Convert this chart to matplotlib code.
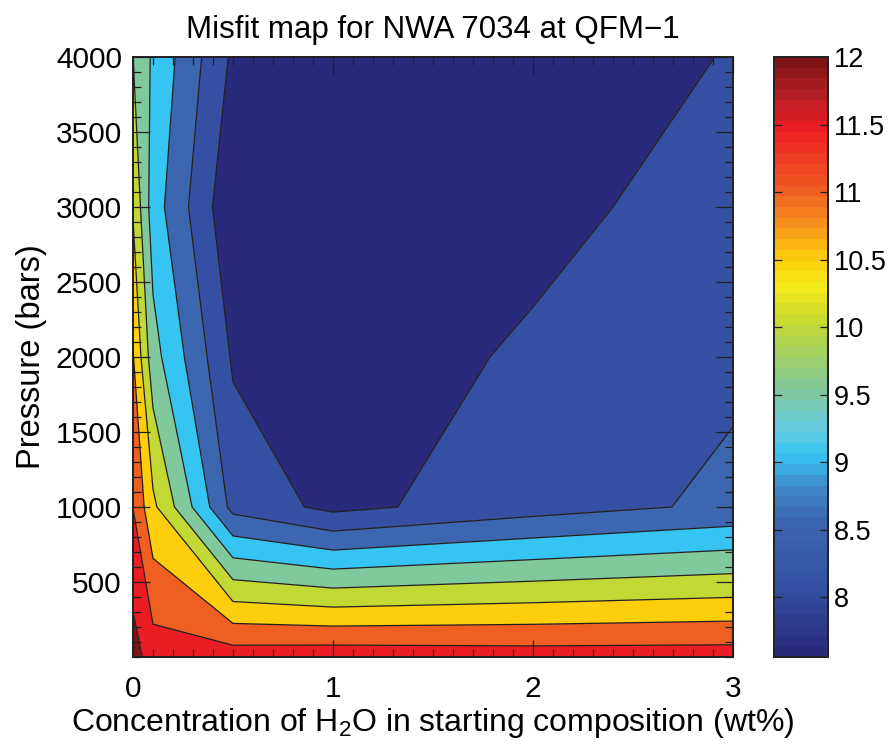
import numpy as np
import matplotlib
matplotlib.use("Agg")
import matplotlib.pyplot as plt
from matplotlib.colors import LinearSegmentedColormap, ListedColormap, Normalize
from matplotlib.cm import ScalarMappable
from matplotlib.ticker import MultipleLocator, FixedLocator

plt.rcParams['font.family'] = ['Liberation Sans', 'DejaVu Sans']
plt.rcParams['mathtext.fontset'] = 'custom'
plt.rcParams['mathtext.rm'] = 'Liberation Sans'
plt.rcParams['mathtext.it'] = 'Liberation Sans:italic'
plt.rcParams['mathtext.bf'] = 'Liberation Sans:bold'

# ---- data ----
water_wt = [0.0, 0.1, 0.5, 1.0, 2.0, 3.0]
pressure_bar = [0, 1000, 2000, 3000, 4000]
misfit_p0 = [11.75, 11.333, 11.35, 11.39, 11.34, 11.34]
misfit_p1000 = [11.105, 10.32, 8.30, 7.88, 8.25, 8.53]
misfit_p2000 = [10.70, 9.50, 7.94, 7.635, 8.10, 8.37]
misfit_p3000 = [10.18, 9.10, 7.62, 7.56, 7.80, 8.30]
misfit_p4000 = [9.78, 9.26, 7.92, 7.60, 7.70, 8.03]
vmin, vmax = 7.5556, 12.0
n_levels = 10
cbar_ticks = [8, 8.5, 9, 9.5, 10, 10.5, 11, 11.5, 12]
cbar_labels = ['8', '8.5', '9', '9.5', '10', '10.5', '11', '11.5', '12']
x_ticks = [0, 1, 2, 3]
y_ticks = [500, 1000, 1500, 2000, 2500, 3000, 3500, 4000]

Z = np.array([misfit_p0, misfit_p1000, misfit_p2000, misfit_p3000, misfit_p4000])
X, Y = np.meshgrid(water_wt, pressure_bar)
levels = np.linspace(vmin, vmax, n_levels + 1)

# ---- colormap (style) ----
anchors = [
    (0.0, '#2a2a7c'), (1/9, '#3551a3'), (2/9, '#3c66b0'), (2.5/9, '#3f88c8'),
    (3/9, '#36c5f2'), (3.45/9, '#68cbdb'), (4/9, '#80c99c'), (5/9, '#c2d834'),
    (5.55/9, '#f4ea1a'), (6/9, '#fccf0b'), (6.5/9, '#f7941d'), (7/9, '#f06022'),
    (8/9, '#ec1c24'), (8.5/9, '#b51f24'), (1.0, '#7f1416')]
cmap_c = LinearSegmentedColormap.from_list('misfit', anchors, N=512)
fill_colors = [cmap_c(k / (n_levels - 1)) for k in range(n_levels)]
cmap_bar = ListedColormap([cmap_c(v) for v in np.linspace(0, 1, 56)])

fig = plt.figure(figsize=(8.88, 7.46), dpi=100)
ax = fig.add_axes([133/888, 89/746, 600/888, 600/746])
cax = fig.add_axes([774/888, 89/746, 54/888, 600/746])

ax.contourf(X, Y, Z, levels=levels, colors=fill_colors, antialiased=True)
ax.contour(X, Y, Z, levels=levels[1:-1], colors='#231f20', linewidths=0.9)

ax.set_xlim(0, 3)
ax.set_ylim(0, 4000)
ax.xaxis.set_major_locator(FixedLocator(x_ticks))
ax.yaxis.set_major_locator(FixedLocator(y_ticks))
ax.xaxis.set_minor_locator(MultipleLocator(0.1))
ax.yaxis.set_minor_locator(MultipleLocator(100))
ax.set_xticklabels([str(t) for t in x_ticks])
ax.set_yticklabels([str(t) for t in y_ticks])
ax.tick_params(which='both', direction='in', top=True, right=True,
               color='#231f20', labelsize=21.5, width=0.9)
ax.tick_params(which='major', length=12)
ax.tick_params(axis='x', which='major', pad=13)
ax.tick_params(axis='y', which='major', pad=8)
ax.tick_params(which='minor', length=5.5)
for s in ax.spines.values():
    s.set_linewidth(1.4)
    s.set_color('#231f20')

ax.set_xlabel(r'Concentration of H$_{\mathrm{2}}$O in starting composition (wt%)',
              fontsize=23, labelpad=2)
ax.set_ylabel('Pressure (bars)', fontsize=23.5, labelpad=6)
ax.set_title('Misfit map for NWA 7034 at QFM\u22121', fontsize=22.5, pad=14)

sm = ScalarMappable(norm=Normalize(vmin, vmax), cmap=cmap_bar)
cb = fig.colorbar(sm, cax=cax)
cb.set_ticks(cbar_ticks)
cb.set_ticklabels(cbar_labels)
cax.yaxis.set_ticks_position('both')
cax.tick_params(direction='in', length=6, width=0.9, labelsize=19.5, color='#231f20',
                labelleft=False, labelright=True, pad=4)
cb.outline.set_linewidth(1.4)
cb.outline.set_edgecolor('#231f20')

fig.savefig('out.png', dpi=100)
